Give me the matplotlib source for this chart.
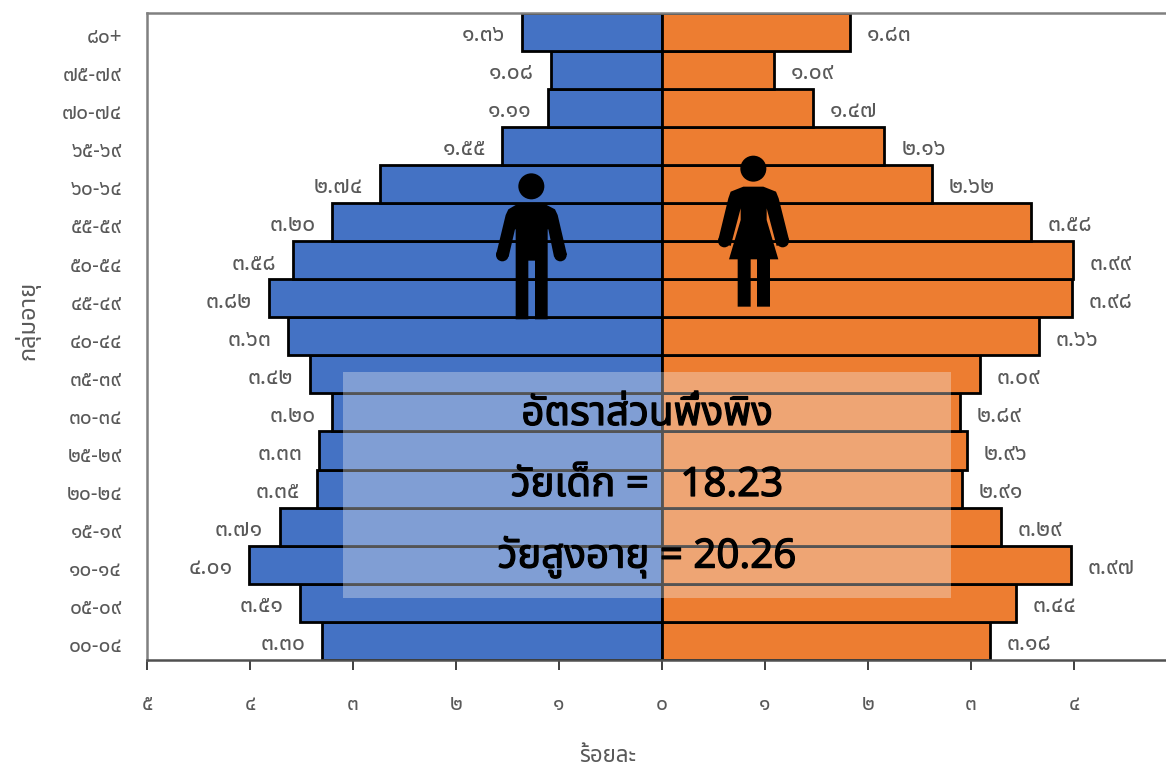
import matplotlib
matplotlib.use('Agg')
from matplotlib import pyplot as plt
from matplotlib import patheffects
from matplotlib.patches import Circle, Polygon, Rectangle
from matplotlib.transforms import Affine2D, ScaledTranslation

THAI_FONT = ['Noto Sans Thai', 'Sarabun', 'Loma', 'Noto Sans', 'DejaVu Sans']
plt.rcParams['font.family'] = THAI_FONT

age_groups = ['00-04', '05-09', '10-14', '15-19', '20-24', '25-29', '30-34', '35-39',
              '40-44', '45-49', '50-54', '55-59', '60-64', '65-69', '70-74', '75-79', '80+']
male = [3.30, 3.51, 4.01, 3.71, 3.35, 3.33, 3.20, 3.42,
        3.63, 3.82, 3.58, 3.20, 2.74, 1.55, 1.11, 1.08, 1.36]
female = [3.18, 3.44, 3.97, 3.29, 2.91, 2.96, 2.89, 3.09,
          3.66, 3.98, 3.99, 3.58, 2.62, 2.16, 1.47, 1.09, 1.83]
x_ticks = [-5, -4, -3, -2, -1, 0, 1, 2, 3, 4]

BLUE = '#4472C4'
ORANGE = '#ED7D31'
GREY = '#595959'

thai = str.maketrans('0123456789', '๐๑๒๓๔๕๖๗๘๙')

W, H = 1166, 766
fig = plt.figure(figsize=(W / 100, H / 100), dpi=100)
ax = fig.add_axes([147 / W, (H - 660) / H, (W - 147) / W, (660 - 12.5) / H])

# picture pixels, origin top left, for the things that sit on top of the chart
px = Affine2D().scale(1, -1).translate(0, H)

ys = list(range(len(age_groups)))
ax.barh(ys, [-v for v in male], height=1.0, color=BLUE, edgecolor='black', linewidth=2.0)
ax.barh(ys, female, height=1.0, color=ORANGE, edgecolor='black', linewidth=2.0)

for y, m, f in zip(ys, male, female):
    ax.annotate(f'{m:.2f}'.translate(thai), (-m, y), xytext=(-12, -2.5), textcoords='offset points',
                ha='right', va='center', fontsize=16.5, color=GREY, fontweight='light')
    ax.annotate(f'{f:.2f}'.translate(thai), (f, y), xytext=(12, -2.5), textcoords='offset points',
                ha='left', va='center', fontsize=16.5, color=GREY, fontweight='light')

ax.set_xlim(-5, (W - 662) / 103)
ax.set_ylim(-0.5, len(age_groups) - 0.5)
ax.set_yticks(ys)
ax.set_yticklabels([a.translate(thai) for a in age_groups], fontsize=15, color=GREY, fontweight='light')
ax.set_xticks(x_ticks)
ax.set_xticklabels([str(abs(t)).translate(thai) for t in x_ticks], fontsize=15, color=GREY, fontweight='light')
ax.tick_params(axis='y', length=0, pad=18)
ax.tick_params(axis='x', length=7.5, width=1.4, color='#404040', pad=17)

down = ScaledTranslation(0, -2.5 / 72, fig.dpi_scale_trans)
for lab in ax.get_yticklabels():
    lab.set_transform(lab.get_transform() + down)

ax.spines['right'].set_visible(False)
for side in ['left', 'top']:
    ax.spines[side].set_color('#808080')
    ax.spines[side].set_linewidth(1.8)
ax.spines['bottom'].set_color('#505050')
ax.spines['bottom'].set_linewidth(1.8)

fig.text(608 / W, 1 - 757 / H, 'ร้อยละ', ha='center', va='center', fontsize=16, color=GREY, fontweight='light')
fig.text(28 / W, 1 - 320 / H, 'กลุ่มอายุ', ha='center', va='center', rotation=90, fontsize=17, color=GREY, fontweight='light')

# icons, points taken from the 3x crop at (480, 140)
def icon(points, circles):
    def to_px(p):
        return (480 + p[0] / 3, 140 + p[1] / 3)
    fig.add_artist(Polygon([to_px(p) for p in points], closed=True, fc='black', ec='none', transform=px))
    for c, r in circles:
        fig.add_artist(Circle(to_px(c), r / 3, fc='black', ec='none', transform=px))

icon([(107, 538), (107, 268), (105, 268), (86, 350), (48, 345), (77, 225), (85, 208), (107, 195),
      (200, 195), (225, 208), (233, 225), (261, 345), (222, 350), (205, 268), (203, 268), (203, 538),
      (165, 538), (165, 362), (145, 362), (145, 538)],
     [((154, 139), 39), ((67, 345), 19), ((241, 345), 19)])
icon([(773, 500), (773, 358), (747, 358), (782, 240), (782, 205), (752, 318), (714, 303), (745, 175),
      (752, 155), (790, 140), (850, 140), (888, 155), (896, 175), (928, 303), (890, 318), (860, 205),
      (860, 240), (895, 358), (870, 358), (870, 500), (831, 500), (831, 358), (812, 358), (812, 500)],
     [((820, 86), 39), ((733, 303), 19), ((908, 303), 19)])

# dependency ratio box, the stroke stands in for the heavier weight
fig.add_artist(Rectangle((343, 371.5), 951 - 343, 598 - 371.5, fc='#F2F2F2', alpha=0.35, ec='none', transform=px))
box_lines = ['อัตราส่วนพึ่งพิง', 'วัยเด็ก =   18.23', 'วัยสูงอายุ = 20.26']
for line, y in zip(box_lines, [415, 486, 557]):
    fig.text(647 / W, 1 - y / H, line, ha='center', va='center', fontsize=29, color='black',
             path_effects=[patheffects.withStroke(linewidth=0.9, foreground='black')])

plt.savefig('out.png', dpi=100)
